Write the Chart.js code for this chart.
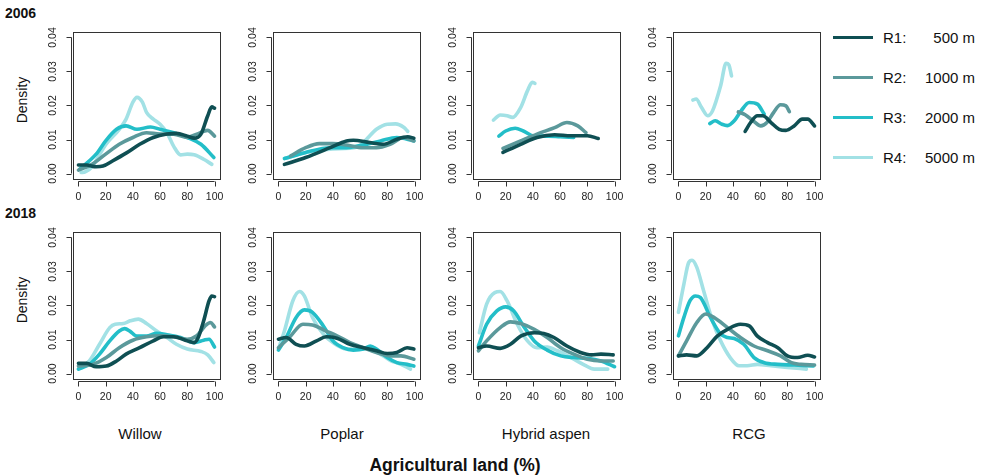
<!DOCTYPE html>
<html>
<head>
<meta charset="utf-8">
<script src="https://cdn.jsdelivr.net/npm/chart.js@4/dist/chart.umd.min.js"></script>
<style>
  body { margin: 0; background: #fff; font-family: "Liberation Sans", Arial, sans-serif; color: #111; }
  #wrap { position: relative; width: 983px; height: 476px; overflow: hidden; }
  canvas { position: absolute; }
  .txt { position: absolute; white-space: nowrap; }
  .year { font-weight: bold; font-size: 14px; left: 5px; }
  .dens { font-size: 14px; transform: translate(-50%, -50%) rotate(-90deg); left: 22px; }
  .cat { font-size: 15px; transform: translate(-50%, -50%); top: 433px; }
  .key { position: absolute; left: 833px; width: 40px; height: 3px; }
  .lab { position: absolute; left: 883px; width: 92px; font-size: 15px; transform: translateY(-50%); }
  .lab span { float: right; }
</style>
</head>
<body>
<div id="wrap">
  <div class="txt year" style="top:5px">2006</div>
  <div class="txt year" style="top:205px">2018</div>
  <div class="txt dens" style="top:100px">Density</div>
  <div class="txt dens" style="top:300px">Density</div>
  <div class="txt cat" style="left:140px">Willow</div>
  <div class="txt cat" style="left:342px">Poplar</div>
  <div class="txt cat" style="left:546px">Hybrid aspen</div>
  <div class="txt cat" style="left:749px">RCG</div>
  <div class="txt" style="left:455px;top:465px;transform:translate(-50%,-50%);font-weight:bold;font-size:17.5px">Agricultural land (%)</div>
  <div id="legend"></div>
</div>
<script>
// buffer radii and line colours
var radii = ['R1:', 'R2:', 'R3:', 'R4:'];
var distances = ['500 m', '1000 m', '2000 m', '5000 m'];
var colors = ['#0f4f53', '#5b999b', '#23bec8', '#a2e1e5'];
var crops = ['Willow', 'Poplar', 'Hybrid aspen', 'RCG'];
var years = [2006, 2018];
var xTicks = [0, 20, 40, 60, 80, 100];
var yTicks = [0, 0.01, 0.02, 0.03, 0.04];

// density curves, [agricultural land %, density]
var w06_r1 = [[0,.0025],[6,.0025],[13,.002],[18,.0022],[25,.0037],[35,.006],[45,.0086],[55,.0106],[65,.0116],[72,.0118],[80,.011],[85,.0104],[90,.0116],[95,.017],[98,.0196],[100,.0192]];
var w06_r2 = [[0,.001],[10,.0027],[20,.0057],[30,.0086],[40,.0106],[50,.012],[60,.0116],[70,.0116],[80,.0106],[87,.0116],[95,.0127],[100,.011]];
var w06_r3 = [[1,.0013],[13,.0057],[20,.0096],[28,.013],[35,.014],[43,.013],[53,.0137],[60,.013],[70,.012],[80,.0106],[90,.0086],[99.5,.0047]];
var w06_r4 = [[2,.0003],[5,.0005],[10,.002],[20,.0085],[30,.013],[35,.016],[40,.021],[43,.0224],[47,.021],[50,.018],[55,.016],[60,.0145],[65,.012],[70,.008],[75,.0055],[80,.0057],[85,.0055],[92,.0042],[98,.0027]];

var p06_r1 = [[4.4,.0027],[20,.0047],[38,.0076],[50,.0096],[55,.0098],[67,.0091],[77,.0086],[87,.0101],[95,.0108],[99.5,.0104]];
var p06_r2 = [[9,.0052],[20,.0076],[30,.0088],[40,.0088],[50,.0084],[62,.0076],[72,.0076],[82,.0086],[92,.0106],[99.5,.0096]];
var p06_r3 = [[4.4,.0044],[20,.0062],[38,.0076],[50,.0076],[62,.0084],[75,.0096],[87,.0106],[99.5,.0096]];
var p06_r4 = [[5,.0045],[20,.0062],[40,.0072],[58,.0078],[64,.0098],[72,.013],[80,.0145],[86,.0146],[92,.0136],[95,.0124]];

var h06_r1 = [[18,.0062],[31,.0086],[43,.0106],[56,.0114],[68,.0111],[80,.0111],[88,.0103]];
var h06_r2 = [[18,.0074],[31,.0096],[43,.0116],[56,.0135],[65,.015],[73,.014],[79,.012]];
var h06_r3 = [[15,.011],[20,.0125],[27,.0133],[33,.0125],[41,.011],[51,.011],[60,.0108],[70,.0106]];
var h06_r4 = [[11,.0157],[16,.0172],[21,.017],[25,.0165],[31,.0194],[36,.0243],[39.5,.0268],[41.5,.0265]];

var c06_r1 = [[49,.0124],[53,.015],[58,.017],[62,.017],[68,.015],[74,.013],[79,.0127],[85,.014],[91,.016],[95,.016],[100,.014]];
var c06_r2 = [[44,.0181],[49,.0173],[55.5,.0153],[60.5,.014],[65,.015],[70,.018],[75,.0202],[79,.0199],[81.5,.0182]];
var c06_r3 = [[23,.0147],[27,.0155],[32,.0145],[36,.0141],[41,.0155],[46,.0184],[52,.0209],[58,.0204],[63,.0175]];
var c06_r4 = [[10.6,.0216],[13,.0219],[17,.0194],[21.5,.017],[25,.0184],[31,.0258],[35,.0324],[37,.032],[39,.0287]];

var w18_r1 = [[0,.003],[6,.003],[13,.002],[20.5,.0022],[28,.0037],[35,.0057],[45,.0076],[55,.0096],[62.5,.0108],[70,.0108],[80,.0096],[85,.0091],[88,.0106],[92,.0155],[96,.0214],[98,.0228],[100,.0226]];
var w18_r2 = [[0,.0022],[10.6,.0027],[20.5,.0047],[30,.0076],[40,.0098],[50,.0108],[60,.0111],[70,.0108],[80,.0101],[87,.0111],[93,.014],[97,.015],[100,.0137]];
var w18_r3 = [[0,.0013],[8,.0027],[15.5,.0057],[23,.0096],[30,.0125],[34,.0132],[38,.0124],[43,.011],[50,.011],[57.5,.0118],[65,.0114],[75,.0106],[85,.0091],[92,.0098],[96,.0101],[100,.0078]];
var w18_r4 = [[0,.0013],[8,.0037],[15.5,.0086],[23,.0135],[27,.0145],[33,.0147],[38,.0155],[44,.016],[50,.0147],[57.5,.0125],[65,.0106],[72,.0086],[80,.0072],[90,.0065],[95,.0055],[99.5,.0032]];

var p18_r1 = [[0,.0101],[5.7,.0106],[13,.0086],[19,.0081],[28,.0096],[35,.0108],[43,.0104],[52.5,.0086],[62.5,.0076],[72,.0067],[80,.0059],[87,.0062],[94.5,.0076],[99.5,.0072]];
var p18_r2 = [[0,.0076],[8,.0106],[18,.0145],[25,.0143],[35,.0125],[43,.0111],[52.5,.0091],[62.5,.0076],[72,.0062],[82,.0052],[90,.0052],[99.5,.0042]];
var p18_r3 = [[0,.0069],[5.7,.0106],[13,.0165],[19,.0187],[25,.018],[33,.014],[40,.0096],[47.5,.0076],[55,.0069],[62.5,.0072],[67.5,.0081],[72,.0072],[80,.0047],[87,.0032],[94.5,.0027],[99.5,.0022]];
var p18_r4 = [[0,.0072],[4.4,.0125],[10.6,.0214],[15.5,.0241],[19,.0228],[25,.0165],[33,.0116],[40,.0091],[50,.0072],[60,.0072],[67.5,.0076],[75,.0057],[82,.0039],[90,.0027],[97,.0013]];

var h18_r1 = [[0,.0076],[6,.0081],[16,.0074],[23.5,.0086],[31,.011],[41,.012],[48,.0118],[55.5,.0106],[65,.0081],[75,.0062],[83,.0055],[90,.0057],[99,.0055]];
var h18_r2 = [[0,.0067],[6,.0096],[16,.0135],[23.5,.0152],[31,.0147],[41,.013],[50.5,.0106],[60.5,.0076],[70,.0057],[80,.0042],[90,.0037],[99,.0037]];
var h18_r3 = [[0,.0081],[6,.0145],[13.5,.0184],[20,.0196],[26,.0184],[33,.014],[41,.0096],[50.5,.0069],[60.5,.0052],[70,.0047],[80,.0045],[90,.0037],[100,.002]];
var h18_r4 = [[0.7,.012],[6,.0204],[12,.0238],[16,.0241],[21,.0214],[28.5,.0145],[36,.0096],[43,.0076],[50.5,.0078],[58,.0067],[68,.0047],[78,.0025],[85,.0013],[95,.0013]];

var c18_r1 = [[0,.0052],[6,.0055],[13.5,.0052],[21,.0076],[28.5,.011],[36,.013],[45.5,.0145],[52,.014],[58,.011],[65.5,.0091],[73,.0076],[80,.0052],[87.5,.0047],[95,.0054],[100,.0049]];
var c18_r2 = [[0,.0052],[6,.0096],[13.5,.015],[20,.0175],[26,.0165],[36,.0135],[45.5,.0106],[55.5,.0081],[65.5,.0067],[75,.0052],[83,.0032],[90,.0027],[100,.0025]];
var c18_r3 = [[0,.0111],[4,.0165],[8.5,.0214],[12.5,.0228],[16,.0224],[23.5,.0165],[31,.0116],[36,.0106],[41,.0103],[48,.0086],[55.5,.0047],[63,.0032],[73,.0027],[85,.0025],[99,.0022]];
var c18_r4 = [[0,.018],[4,.0263],[7.5,.0326],[10,.0333],[13.5,.0312],[18.5,.0243],[25,.0155],[31,.0096],[38,.0047],[44.5,.0023],[50.5,.0023],[58,.0027],[68,.0023],[80,.0018],[94,.0013]];

var panels = [
    [[w06_r1, w06_r2, w06_r3, w06_r4], [p06_r1, p06_r2, p06_r3, p06_r4], [h06_r1, h06_r2, h06_r3, h06_r4], [c06_r1, c06_r2, c06_r3, c06_r4]],
    [[w18_r1, w18_r2, w18_r3, w18_r4], [p18_r1, p18_r2, p18_r3, p18_r4], [h18_r1, h18_r2, h18_r3, h18_r4], [c18_r1, c18_r2, c18_r3, c18_r4]]
];

// R-style box plus detached axes, drawn from the chart's own scales
var rAxes = {
    id: 'rAxes',
    afterDraw: function(chart) {
        var ctx = chart.ctx, a = chart.chartArea;
        var xs = chart.scales.x, ys = chart.scales.y;
        ctx.save();
        ctx.strokeStyle = '#333';
        ctx.lineWidth = 1;
        ctx.strokeRect(Math.round(a.left) + 0.5, Math.round(a.top) + 0.5, Math.round(a.right - a.left), Math.round(a.bottom - a.top));
        ctx.fillStyle = '#222';
        ctx.font = '10.5px "Liberation Sans", Arial, sans-serif';

        // x axis
        var yl = Math.round(a.bottom) + 2.5;
        ctx.beginPath();
        ctx.moveTo(xs.getPixelForValue(xTicks[0]), yl);
        ctx.lineTo(xs.getPixelForValue(xTicks[xTicks.length - 1]), yl);
        xTicks.forEach(function(t) {
            var px = Math.round(xs.getPixelForValue(t)) + 0.5;
            ctx.moveTo(px, yl);
            ctx.lineTo(px, yl + 5);
        });
        ctx.stroke();
        ctx.textAlign = 'center';
        ctx.textBaseline = 'middle';
        xTicks.forEach(function(t) {
            ctx.fillText(String(t), xs.getPixelForValue(t), a.bottom + 18);
        });

        // y axis
        var xl = Math.round(a.left) - 1.5;
        ctx.beginPath();
        ctx.moveTo(xl, ys.getPixelForValue(yTicks[0]));
        ctx.lineTo(xl, ys.getPixelForValue(yTicks[yTicks.length - 1]));
        yTicks.forEach(function(t) {
            var py = Math.round(ys.getPixelForValue(t)) + 0.5;
            ctx.moveTo(xl, py);
            ctx.lineTo(xl - 5, py);
        });
        ctx.stroke();
        yTicks.forEach(function(t) {
            ctx.save();
            ctx.translate(a.left - 20, ys.getPixelForValue(t));
            ctx.rotate(-Math.PI / 2);
            ctx.fillText(t.toFixed(2), 0, 0);
            ctx.restore();
        });
        ctx.restore();
    }
};

var wrap = document.getElementById('wrap');

years.forEach(function(year, row) {
    crops.forEach(function(crop, col) {
        var canvas = document.createElement('canvas');
        canvas.width = 200;
        canvas.height = 200;
        canvas.style.left = (30 + 200 * col) + 'px';
        canvas.style.top = (20 + 200 * row) + 'px';
        wrap.appendChild(canvas);

        var sets = panels[row][col].map(function(pts, i) {
            return {
                label: radii[i] + ' ' + distances[i],
                data: pts.map(function(p) { return { x: p[0], y: p[1] }; }),
                borderColor: colors[i],
                borderWidth: 3.6,
                borderCapStyle: 'round',
                borderJoinStyle: 'round',
                cubicInterpolationMode: 'monotone',
                pointRadius: 0,
                fill: false
            };
        });

        new Chart(canvas.getContext('2d'), {
            type: 'line',
            data: { datasets: sets },
            options: {
                responsive: false,
                animation: false,
                devicePixelRatio: 1,
                layout: { padding: { left: 43, right: 10, top: 12, bottom: 41 } },
                scales: {
                    x: { type: 'linear', min: -4, max: 104, display: false },
                    y: { type: 'linear', min: -0.0016, max: 0.0416, display: false }
                },
                plugins: { legend: { display: false }, tooltip: { enabled: false } }
            },
            plugins: [rAxes]
        });
    });
});

// legend on the right
var legend = document.getElementById('legend');
radii.forEach(function(r, i) {
    var y = 37 + 40 * i;
    var key = document.createElement('div');
    key.className = 'key';
    key.style.top = (y - 1.5) + 'px';
    key.style.background = colors[i];
    legend.appendChild(key);
    var lab = document.createElement('div');
    lab.className = 'lab';
    lab.style.top = y + 'px';
    lab.innerHTML = r + '<span>' + distances[i] + '</span>';
    legend.appendChild(lab);
});
</script>
</body>
</html>
